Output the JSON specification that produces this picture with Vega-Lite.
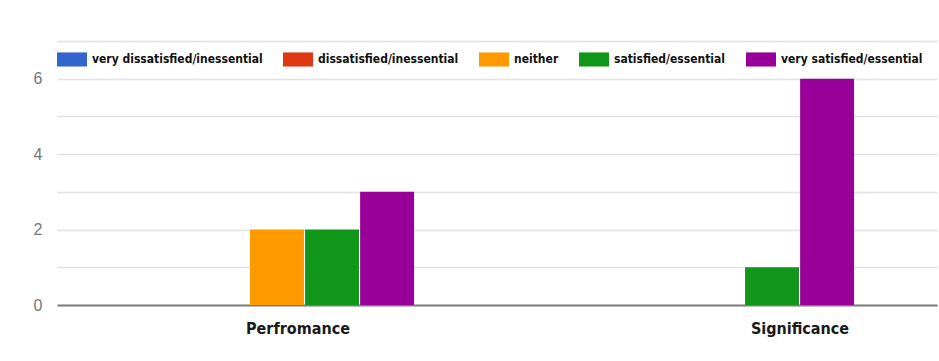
{
  "$schema": "https://vega.github.io/schema/vega-lite/v6.json",
  "width": 880,
  "height": 264,
  "padding": {"left": 33, "top": 41, "right": 2, "bottom": 20},
  "background": "white",
  "data": {
    "values": [
      {"aspect": "Perfromance", "rating": "very dissatisfied/inessential", "count": 0},
      {"aspect": "Perfromance", "rating": "dissatisfied/inessential", "count": 0},
      {"aspect": "Perfromance", "rating": "neither", "count": 2},
      {"aspect": "Perfromance", "rating": "satisfied/essential", "count": 2},
      {"aspect": "Perfromance", "rating": "very satisfied/essential", "count": 3},
      {"aspect": "Significance", "rating": "very dissatisfied/inessential", "count": 0},
      {"aspect": "Significance", "rating": "dissatisfied/inessential", "count": 0},
      {"aspect": "Significance", "rating": "neither", "count": 0},
      {"aspect": "Significance", "rating": "satisfied/essential", "count": 1},
      {"aspect": "Significance", "rating": "very satisfied/essential", "count": 6}
    ]
  },
  "mark": {"type": "bar"},
  "encoding": {
    "x": {
      "field": "aspect",
      "type": "nominal",
      "sort": null,
      "scale": {"paddingInner": 0.377, "paddingOuter": 0.1885},
      "axis": {
        "title": null,
        "labelAngle": 0,
        "ticks": false,
        "domain": true,
        "domainColor": "#7c7c7c",
        "domainWidth": 2,
        "labelPadding": 15,
        "labelFont": "DejaVu Sans Condensed, DejaVu Sans, sans-serif",
        "labelFontWeight": "bold",
        "labelFontSize": 16,
        "labelColor": "#1a1a1a",
        "labelOffset": {"condition": {"test": "datum.value == 'Perfromance'", "value": 21}, "value": 83}
      }
    },
    "xOffset": {
      "field": "rating",
      "type": "nominal",
      "sort": null,
      "scale": {"paddingInner": 0.02, "paddingOuter": 0}
    },
    "y": {
      "field": "count",
      "type": "quantitative",
      "scale": {"domain": [0, 7], "nice": false},
      "axis": {
        "title": null,
        "values": [0, 1, 2, 3, 4, 5, 6, 7],
        "labelExpr": "datum.value % 2 == 0 && datum.value < 7 ? datum.label : ''",
        "ticks": false,
        "domain": false,
        "gridColor": "#e2e2e2",
        "gridWidth": 1.5,
        "labelPadding": 15,
        "labelFont": "Arial, Liberation Sans, sans-serif",
        "labelFontSize": 16,
        "labelColor": "#777777"
      }
    },
    "color": {
      "field": "rating",
      "type": "nominal",
      "sort": null,
      "scale": {
        "domain": ["very dissatisfied/inessential", "dissatisfied/inessential", "neither", "satisfied/essential", "very satisfied/essential"],
        "range": ["#3366cc", "#dc3912", "#ff9900", "#109618", "#990099"]
      },
      "legend": {
        "title": null,
        "orient": "none",
        "direction": "horizontal",
        "legendX": 0,
        "legendY": 3,
        "symbolType": "M-1,-0.47L1,-0.47L1,0.47L-1,0.47Z",
        "symbolSize": 900,
        "symbolStrokeWidth": 0,
        "symbolOpacity": 1,
        "labelFont": "DejaVu Sans Condensed, DejaVu Sans, sans-serif",
        "labelFontWeight": "bold",
        "labelFontSize": 12,
        "labelColor": "#111111",
        "labelOffset": 5,
        "columnPadding": 20,
        "labelLimit": 300
      }
    }
  },
  "config": {
    "view": {"stroke": null}
  }
}
